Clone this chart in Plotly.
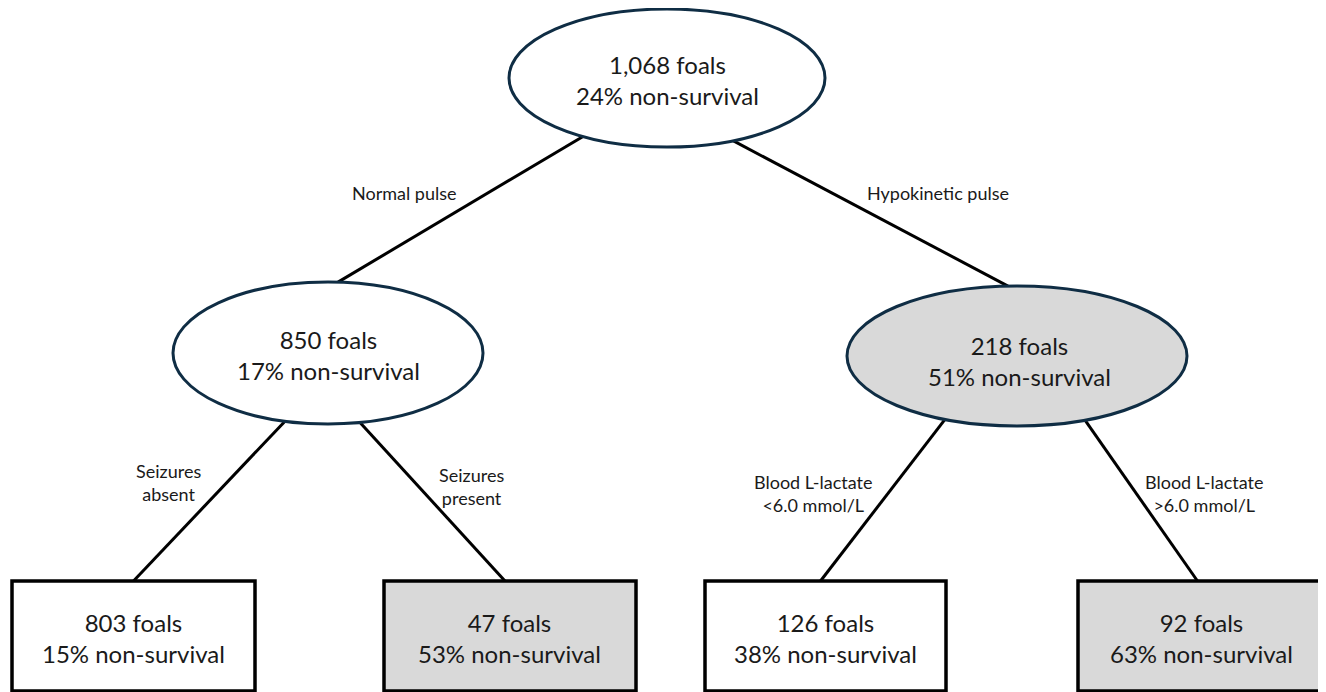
import plotly.graph_objects as go
import math

# ---------------- data ----------------
node_ids = ["root", "normal", "hypo", "sz_abs", "sz_pres", "lac_lo", "lac_hi"]
node_foals = [1068, 850, 218, 803, 47, 126, 92]
node_nonsurv_pct = [24, 17, 51, 15, 53, 38, 63]
node_highlight = [False, False, True, False, True, False, True]

edge_parent = ["root", "root", "normal", "normal", "hypo", "hypo"]
edge_child = ["normal", "hypo", "sz_abs", "sz_pres", "lac_lo", "lac_hi"]
edge_labels = ["Normal pulse", "Hypokinetic pulse",
               "Seizures<br>absent", "Seizures<br>present",
               "Blood L-lactate<br><6.0 mmol/L", "Blood L-lactate<br>>6.0 mmol/L"]

# ---------------- layout (pixel canvas) ----------------
W, H = 1326, 692
PAGE_OFFSET = 8  # default page margin of the html body
# node geometry: kind, cx, cy, half-width, half-height
geom = {
    "root":    ("ellipse", 667, 78, 158, 69),
    "normal":  ("ellipse", 328, 353, 155, 71),
    "hypo":    ("ellipse", 1017, 356, 170, 70),
    "sz_abs":  ("box", 133.5, 636, 121.5, 55),
    "sz_pres": ("box", 510, 636, 126, 55),
    "lac_lo":  ("box", 825.5, 636, 120.5, 55),
    "lac_hi":  ("box", 1200.5, 636, 122.5, 55),
}
text_pos = {
    "root": (667, 80), "normal": (328, 355), "hypo": (1019, 361),
    "sz_abs": (133, 638), "sz_pres": (509, 638), "lac_lo": (825, 638), "lac_hi": (1201, 638),
}
# where each edge leaves the parent / enters the child (x offsets from centres)
edge_exit_dx = [-84, 66, -43, 32, -72, 68]
edge_entry_dx = [10, -9, 0, -5, -5, -3]
label_pos = [(404, 193), (938, 193), (168, 482), (471, 486), (813, 493), (1204, 493)]

ELLIPSE_LINE = "#0f2d44"
GREY = "#d9d9d9"
FONT = "Lato"

def bottom_y(node, dx):
    kind, cx, cy, hw, hh = geom[node]
    if kind == "ellipse":
        return cy + hh * math.sqrt(max(0.0, 1 - (dx / hw) ** 2))
    return cy + hh

def top_y(node, dx):
    kind, cx, cy, hw, hh = geom[node]
    if kind == "ellipse":
        return cy - hh * math.sqrt(max(0.0, 1 - (dx / hw) ** 2))
    return cy - hh

fig = go.Figure()
shapes = []
annotations = []

# edges
for p, c, dxe, dxn, lab, (lx, ly) in zip(edge_parent, edge_child, edge_exit_dx,
                                          edge_entry_dx, edge_labels, label_pos):
    pcx = geom[p][1]
    ccx = geom[c][1]
    x0, y0 = pcx + dxe, bottom_y(p, dxe)
    x1, y1 = ccx + dxn, top_y(c, dxn)
    fig.add_trace(go.Scatter(x=[x0, x1], y=[y0, y1], mode="lines",
                             line=dict(color="black", width=3),
                             hoverinfo="skip", showlegend=False))
    annotations.append(dict(x=lx, y=ly, xref="x", yref="y", text=lab,
                            showarrow=False, align="center",
                            font=dict(family=FONT, size=18, color="#1a1a1a")))

# nodes
for nid, n, pct, hl in zip(node_ids, node_foals, node_nonsurv_pct, node_highlight):
    kind, cx, cy, hw, hh = geom[nid]
    fill = GREY if hl else "white"
    if kind == "ellipse":
        shapes.append(dict(type="circle", xref="x", yref="y",
                           x0=cx - hw, x1=cx + hw, y0=cy - hh, y1=cy + hh,
                           fillcolor=fill, line=dict(color=ELLIPSE_LINE, width=3),
                           layer="above"))
    else:
        shapes.append(dict(type="rect", xref="x", yref="y",
                           x0=cx - hw, x1=cx + hw, y0=cy - hh, y1=cy + hh,
                           fillcolor=fill, line=dict(color="black", width=3.5),
                           layer="above"))
    tx, ty = text_pos[nid]
    annotations.append(dict(x=tx, y=ty, xref="x", yref="y",
                            text=f"{n:,} foals<br>{pct}% non-survival",
                            showarrow=False, align="center",
                            font=dict(family=FONT, size=24, color="#1a1a1a")))

fig.update_layout(
    width=W, height=H,
    margin=dict(l=0, r=0, t=0, b=0),
    paper_bgcolor="white", plot_bgcolor="white",
    xaxis=dict(range=[PAGE_OFFSET, W + PAGE_OFFSET], visible=False, fixedrange=True),
    yaxis=dict(range=[H + PAGE_OFFSET, PAGE_OFFSET], visible=False, fixedrange=True),
    shapes=shapes, annotations=annotations, showlegend=False,
)

fig.write_html("out.html")
